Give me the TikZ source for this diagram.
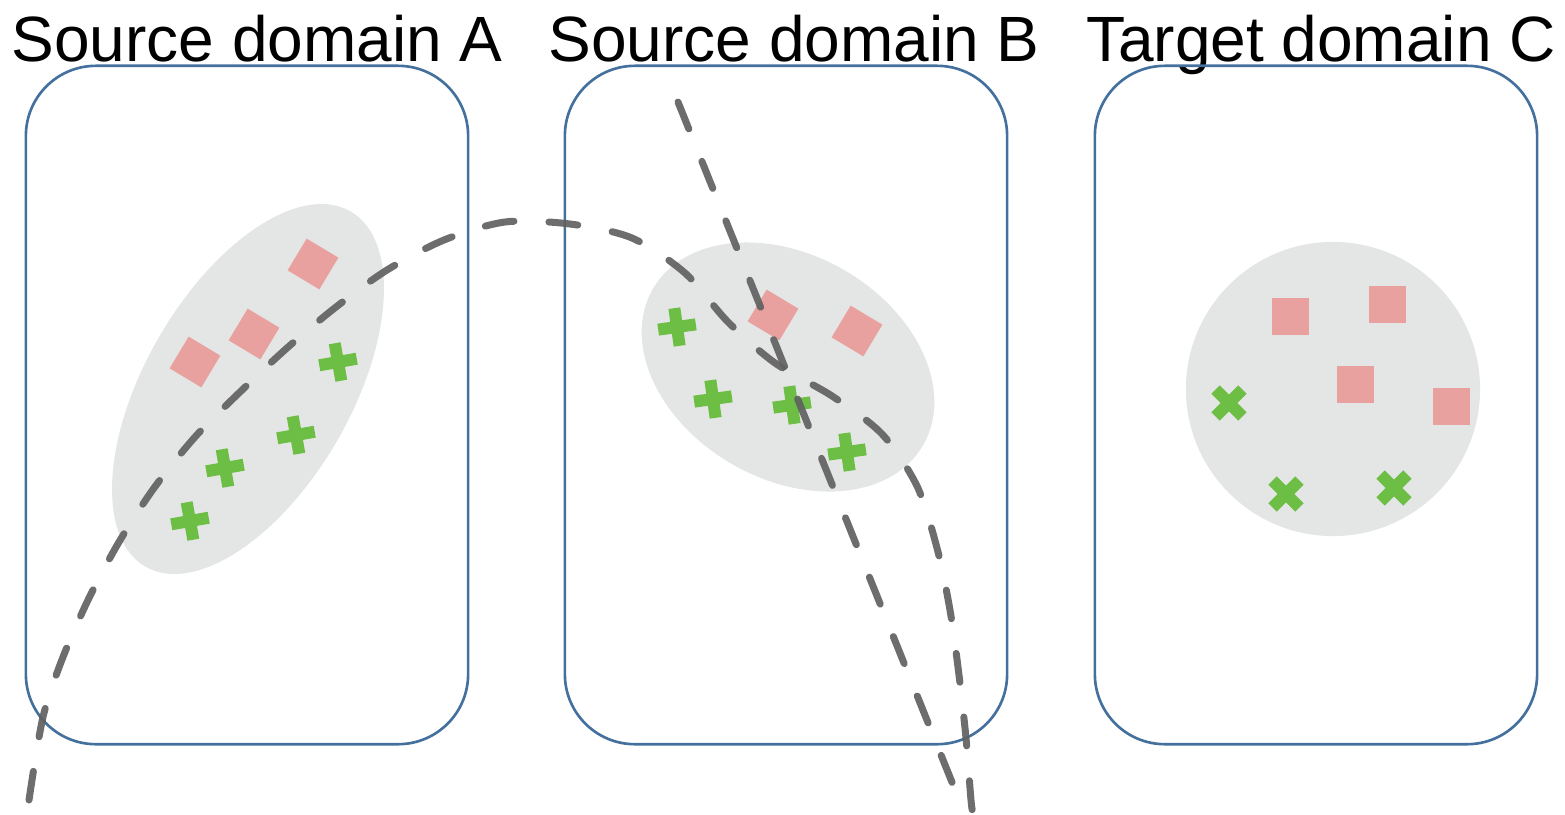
\documentclass[tikz,border=0pt]{standalone}
\usepackage{fontspec}
\setmainfont{Liberation Sans}
\usetikzlibrary{shapes.geometric}

\definecolor{boxblue}{HTML}{44709D}
\definecolor{cloudgray}{HTML}{E4E5E5}
\definecolor{sqpink}{HTML}{E8A19E}
\definecolor{plusgreen}{HTML}{6DBE45}
\definecolor{linegray}{HTML}{616161}

\tikzset{
  title/.style={anchor=base, font=\fontsize{18.2}{20}\selectfont, inner sep=0pt},
  domainbox/.style={draw=boxblue, line width=0.75pt, rounded corners=0.7cm,
    minimum width=4.42cm, minimum height=6.78cm, inner sep=0pt},
  cloud/.style={fill=cloudgray, inner sep=0pt},
  boundary/.style={draw=linegray, opacity=0.92, line width=0.07cm, line cap=round,
    dash pattern=on 0.29cm off 0.35cm},
  plusmark/.pic={
    \fill[plusgreen] (-19,-6) rectangle (19,6);
    \fill[plusgreen] (-6,-19) rectangle (6,19);
  },
  sqmark/.pic={
    \fill[sqpink] (-18.5,-18.5) rectangle (18.5,18.5);
  },
}

\begin{document}
\begin{tikzpicture}[x=0.01cm, y=-0.01cm]
\useasboundingbox (0,0) rectangle (1565,814);

% headings
\node[title] (titleA) at (257,61) {Source domain A};
\node[title] (titleB) at (794,61) {Source domain B};
\node[title] (titleC) at (1321,61) {Target domain C};

% domain frames
\node[domainbox] (boxA) at (247,405) {};
\node[domainbox] (boxB) at (786,405) {};
\node[domainbox] (boxC) at (1316,405) {};

% data clouds
\node[cloud, ellipse, minimum width=4.1cm, minimum height=2.06cm, rotate=60] (cloudA) at (248,389) {};
\node[cloud, ellipse, minimum width=3.12cm, minimum height=2.24cm, rotate=-30] (cloudB) at (788,367) {};
\node[cloud, circle, minimum size=2.94cm] (cloudC) at (1333,389) {};

% domain A samples
\pic[rotate=-31] at (313,264) {sqmark};
\pic[rotate=-31] at (254,334) {sqmark};
\pic[rotate=-31] at (195,362) {sqmark};
\pic[rotate=10] at (338,362) {plusmark};
\pic[rotate=10] at (296,435) {plusmark};
\pic[rotate=10] at (225,468) {plusmark};
\pic[rotate=10] at (190,521) {plusmark};

% domain B samples
\pic[rotate=-31] at (773,315) {sqmark};
\pic[rotate=-31] at (857,331) {sqmark};
\pic[rotate=8] at (677,327) {plusmark};
\pic[rotate=8] at (713,399) {plusmark};
\pic[rotate=8] at (792,405) {plusmark};
\pic[rotate=8] at (847,452) {plusmark};

% domain C samples
\pic at (1290,316) {sqmark};
\pic at (1387,304) {sqmark};
\pic at (1355,384) {sqmark};
\pic at (1451,406) {sqmark};
\pic[rotate=45] at (1229,403) {plusmark};
\pic[rotate=45] at (1286,494) {plusmark};
\pic[rotate=45] at (1394,488) {plusmark};

% decision boundaries
\draw[boundary] plot[smooth, tension=0.5] coordinates {
  (29,800) (43,717) (63,657) (89,598) (119,542) (154,488) (195,437)
  (240,392) (287,348) (336,307) (387,270) (444,240) (505,222) (570,224)
  (632,238) (685,273) (728,322) (775,363) (832,396) (882,434) (917,486)
  (937,548) (950,610) (959,675) (966,738) (971,800) (973,814)};
\coordinate (bTop) at (678,102);
\coordinate (bEnd) at (964,812);
\draw[boundary] (bTop) -- (bEnd);
\end{tikzpicture}
\end{document}
